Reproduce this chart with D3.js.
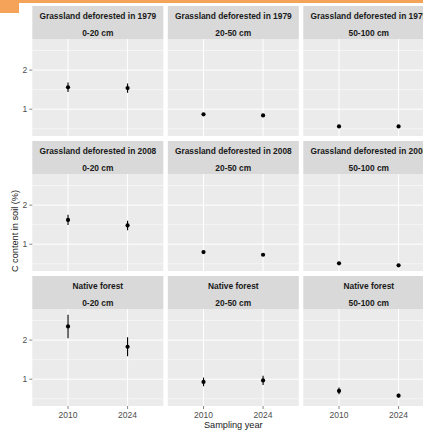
<!DOCTYPE html>
<html>
<head>
<script src="https://cdnjs.cloudflare.com/ajax/libs/d3/7.8.5/d3.min.js"></script>
<style>
  body { margin: 0; background: #fff; }
  svg { display: block; font-family: "Liberation Sans", Arial, sans-serif; }
  .strip text { font-size: 8.4px; font-weight: bold; fill: #1a1a1a; }
  .tick text { font-size: 8.5px; fill: #4d4d4d; }
  .title { font-size: 9.2px; fill: #1a1a1a; }
</style>
</head>
<body>
<div id="chart"></div>
<script>
  // facets
  const landUses = ["Grassland deforested in 1979", "Grassland deforested in 2008", "Native forest"];
  const depths = ["0-20 cm", "20-50 cm", "50-100 cm"];
  const years = ["2010", "2024"];
  const yTicks = [1, 2];

  // mean C (%) per depth, [2010, 2024]
  const mean1979 = [[1.56, 1.54], [0.87, 0.84], [0.56, 0.56]];
  const se1979   = [[0.12, 0.12], [0.02, 0.02], [0.01, 0.01]];
  const mean2008 = [[1.62, 1.48], [0.80, 0.73], [0.51, 0.46]];
  const se2008   = [[0.13, 0.12], [0.02, 0.02], [0.01, 0.01]];
  const meanNative = [[2.35, 1.83], [0.93, 0.97], [0.70, 0.58]];
  const seNative   = [[0.30, 0.24], [0.11, 0.12], [0.085, 0.05]];

  const means = [mean1979, mean2008, meanNative];
  const ses = [se1979, se2008, seNative];

  const width = 423, height = 432;
  const svg = d3.select("#chart").append("svg").attr("width", width).attr("height", height);

  // little orange screenshot edge at the top
  svg.append("rect").attr("x", 0).attr("y", 0).attr("width", width).attr("height", 3).attr("fill", "#f6a35a");
  svg.append("rect").attr("x", 0).attr("y", 0).attr("width", 19).attr("height", 13).attr("fill", "#f6a35a");

  const marginLeft = 32.3, marginTop = 6;
  const panelW = 131, colStep = 135.5;
  const stripH = 33, panelH = 97, rowStep = 135;

  // ggplot-style discrete x: expand 0.6 each side
  const x = d3.scalePoint().domain(years).range([panelW * 0.6 / 2.2, panelW * 1.6 / 2.2]);
  const y = d3.scaleLinear().domain([0.315, 2.795]).range([panelH, 0]);

  const minorTicks = [0.5, 1.5, 2.5];

  landUses.forEach((lu, r) => {
    depths.forEach((dp, c) => {
      const g = svg.append("g")
        .attr("transform", `translate(${marginLeft + c * colStep},${marginTop + r * rowStep})`);

      // strip
      const strip = g.append("g").attr("class", "strip");
      strip.append("rect").attr("width", panelW).attr("height", stripH).attr("fill", "#d9d9d9");
      strip.append("text").attr("x", panelW / 2).attr("y", 12.6).attr("text-anchor", "middle").text(lu);
      strip.append("text").attr("x", panelW / 2).attr("y", 29.6).attr("text-anchor", "middle").text(dp);

      const p = g.append("g").attr("transform", `translate(0,${stripH})`);
      p.append("rect").attr("width", panelW).attr("height", panelH).attr("fill", "#ebebeb");

      p.selectAll(".minor").data(minorTicks).enter().append("line")
        .attr("x1", 0).attr("x2", panelW)
        .attr("y1", d => y(d)).attr("y2", d => y(d))
        .attr("stroke", "#fff").attr("stroke-width", 0.5);
      p.selectAll(".major").data(yTicks).enter().append("line")
        .attr("x1", 0).attr("x2", panelW)
        .attr("y1", d => y(d)).attr("y2", d => y(d))
        .attr("stroke", "#fff").attr("stroke-width", 1);
      p.selectAll(".vmajor").data(years).enter().append("line")
        .attr("x1", d => x(d)).attr("x2", d => x(d))
        .attr("y1", 0).attr("y2", panelH)
        .attr("stroke", "#fff").attr("stroke-width", 1);

      const pts = years.map((yr, i) => ({ yr, m: means[r][c][i], se: ses[r][c][i] }));
      p.selectAll(".err").data(pts).enter().append("line")
        .attr("x1", d => x(d.yr)).attr("x2", d => x(d.yr))
        .attr("y1", d => y(d.m - d.se)).attr("y2", d => y(d.m + d.se))
        .attr("stroke", "#000").attr("stroke-width", 1.1);
      p.selectAll(".pt").data(pts).enter().append("circle")
        .attr("cx", d => x(d.yr)).attr("cy", d => y(d.m))
        .attr("r", 2.1).attr("fill", "#000");

      // y axis on first column
      if (c === 0) {
        const ya = p.append("g").selectAll("g").data(yTicks).enter().append("g").attr("class", "tick");
        ya.append("line").attr("x1", -3).attr("x2", 0)
          .attr("y1", d => y(d)).attr("y2", d => y(d)).attr("stroke", "#333").attr("stroke-width", 0.6);
        ya.append("text").attr("x", -5).attr("y", d => y(d) + 3).attr("text-anchor", "end").text(d => d);
      }
      // x axis on bottom row
      if (r === landUses.length - 1) {
        const xa = p.append("g").selectAll("g").data(years).enter().append("g").attr("class", "tick");
        xa.append("line").attr("x1", d => x(d)).attr("x2", d => x(d))
          .attr("y1", panelH).attr("y2", panelH + 3).attr("stroke", "#333").attr("stroke-width", 0.6);
        xa.append("text").attr("x", d => x(d)).attr("y", panelH + 11.5).attr("text-anchor", "middle").text(d => d);
      }
    });
  });

  // axis titles
  svg.append("text").attr("class", "title")
    .attr("x", marginLeft + (2 * colStep + panelW) / 2).attr("y", 428)
    .attr("text-anchor", "middle").text("Sampling year");
  svg.append("text").attr("class", "title")
    .attr("transform", "translate(18,231) rotate(-90)")
    .attr("text-anchor", "middle").text("C content in soil (%)");
</script>
</body>
</html>
